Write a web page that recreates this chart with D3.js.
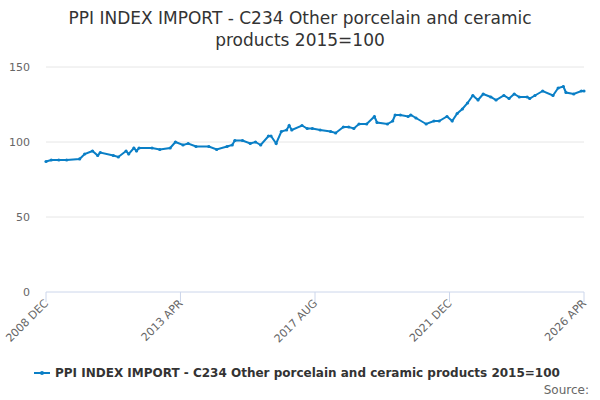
<!DOCTYPE html>
<html><head><meta charset="utf-8">
<script src="https://cdn.jsdelivr.net/npm/d3@7"></script>
<style>body{margin:0;font-family:"DejaVu Sans",sans-serif;}</style>
</head><body><svg id="c" width="600" height="400"></svg>
<script>
// months since 2008 DEC, and index value
var months = [0,2,5,8,13,15,18,20,21,26,28,31,32,34,35,36,41,44,48,50,53,55,58,63,66,70,72,73,76,79,81,83,86,87,89,91,93,94,95,99,101,103,106,110,112,115,117,119,121,124,127,128,132,134,135,137,140,141,143,147,150,152,155,157,159,161,163,165,167,169,172,174,177,179,181,183,186,187,189,192,196,198,200,201,204,207,208];
var values = [87,88,88,88,88.7,92,94,91,93,91,90,94,92,96,94,96,96,95,96,100,98,99,97,97,95,97,98,101,101,99,100,98,104,104,99,107,108,111,108,111,109,109,108,107,106,110,110,109,112,112,117,113,112,114,118,118,117,118,116,112,114,114,117,114,119,122,126,131,128,132,130,128,131,129,132,130,130,129,131,134,131,136,137,133,132,134,134];
var yTicks = [0,50,100,150];
var xTickMonths = [0,52,104,156,208];
var xTickLabels = ["2008 DEC","2013 APR","2017 AUG","2021 DEC","2026 APR"];
var seriesName = "PPI INDEX IMPORT - C234 Other porcelain and ceramic products 2015=100";

var start = new Date(2008,11,1);
var data = months.map(function(m,i){return {date:d3.timeMonth.offset(start,m), v:values[i]};});

var svg = d3.select("#c");
var pLeft=46, pRight=584, pTop=67, pBottom=292;
var x = d3.scaleTime().domain([start, d3.timeMonth.offset(start,208)]).range([pLeft,pRight]);
var y = d3.scaleLinear().domain([0,150]).range([pBottom,pTop]);

svg.append("text").attr("x",300).attr("y",24).attr("text-anchor","middle").attr("font-size",17).attr("fill","#333").text("PPI INDEX IMPORT - C234 Other porcelain and ceramic");
svg.append("text").attr("x",300).attr("y",46).attr("text-anchor","middle").attr("font-size",17).attr("fill","#333").text("products 2015=100");

svg.selectAll(".grid").data(yTicks).enter().append("line")
  .attr("x1",pLeft).attr("x2",pRight).attr("y1",function(d){return y(d);}).attr("y2",function(d){return y(d);})
  .attr("stroke",function(d){return d==0?"#ccd6eb":"#e6e6e6";});
svg.selectAll(".yl").data(yTicks).enter().append("text")
  .attr("x",30).attr("y",function(d){return y(d)+4;}).attr("text-anchor","end")
  .attr("font-size",11).attr("fill","#666").text(function(d){return d;});

xTickMonths.forEach(function(m,i){
  var xx = x(d3.timeMonth.offset(start,m));
  svg.append("line").attr("x1",xx).attr("x2",xx).attr("y1",pBottom).attr("y2",pBottom+10).attr("stroke","#ccd6eb");
  svg.append("text").attr("transform","translate("+(xx+3)+","+(pBottom+12)+") rotate(-45)")
    .attr("text-anchor","end").attr("font-size",11).attr("fill","#666").text(xTickLabels[i]);
});

var line = d3.line().x(function(d){return x(d.date);}).y(function(d){return y(d.v);});
svg.append("path").datum(data).attr("d",line).attr("fill","none").attr("stroke","#0a7fc6").attr("stroke-width",2);
svg.selectAll(".pt").data(data).enter().append("circle")
  .attr("cx",function(d){return x(d.date);}).attr("cy",function(d){return y(d.v);}).attr("r",1.6).attr("fill","#0a7fc6");

svg.append("line").attr("x1",34).attr("x2",50).attr("y1",373).attr("y2",373).attr("stroke","#0a7fc6").attr("stroke-width",2);
svg.append("circle").attr("cx",42).attr("cy",373).attr("r",2).attr("fill","#0a7fc6");
svg.append("text").attr("x",55).attr("y",377).attr("font-size",12).attr("font-weight","bold").attr("fill","#333").text(seriesName);
svg.append("text").attr("x",589).attr("y",394).attr("text-anchor","end").attr("font-size",12).attr("fill","#666").text("Source:");
</script></body></html>
